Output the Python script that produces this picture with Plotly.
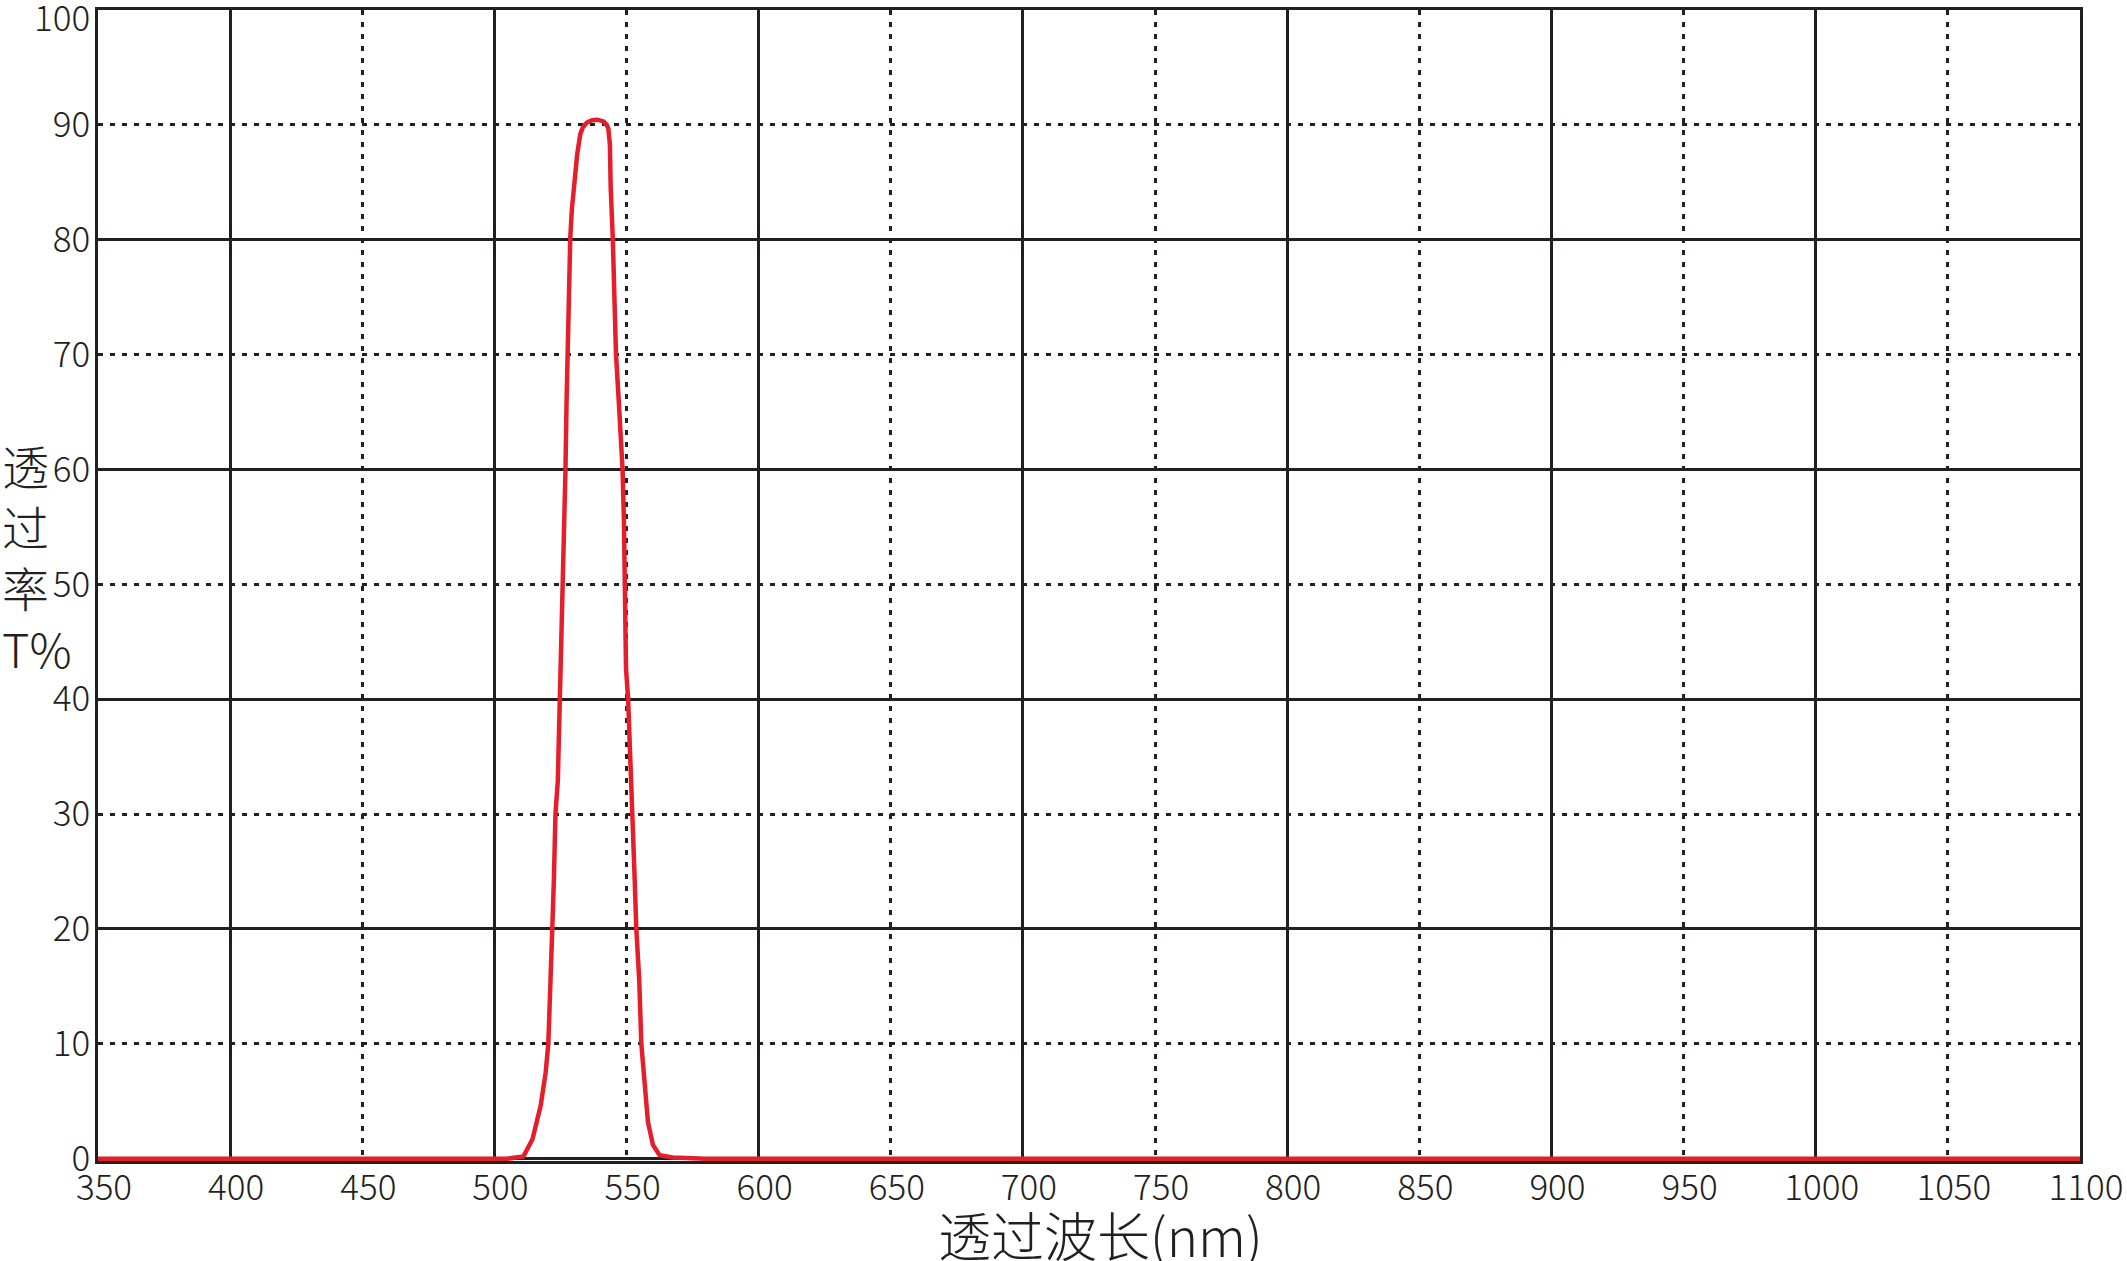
import plotly.graph_objects as go

# transmission curve
wavelength = [350, 505, 511, 514.4, 517.5, 519.4, 520.4, 520.9, 521.3, 521.9, 522.5,
              523.1, 524.0, 524.8, 525.3, 526.0, 526.3, 526.9, 527.3, 527.7, 528.7,
              529.3, 530.0, 531.3, 532.5, 533.5, 535.0, 537.0, 539.0, 541.3, 542.5,
              543.1, 543.7, 544.0, 544.8, 545.6, 546.0, 547.1, 548.5, 549.0, 549.4,
              549.8, 550.6, 551.9, 552.3, 553.1, 553.7, 554.8, 555.6, 556.9, 558.1,
              560.0, 562.5, 567.5, 580, 1100]
transmission = [0, 0, 0.2, 1.7, 4.6, 7.5, 10.0, 12.8, 15.6, 20.0, 24.2,
                30.0, 32.9, 40.0, 45.6, 50.0, 54.3, 60.0, 65.8, 70.1, 80.1,
                82.6, 84.6, 87.4, 89.2, 89.8, 90.2, 90.4, 90.45, 90.3, 90.0,
                89.7, 88.3, 84.6, 80.1, 74.5, 70.1, 65.8, 60.0, 55.7, 50.0,
                42.7, 40.0, 32.9, 30.0, 24.2, 20.0, 15.6, 10.0, 6.3, 3.2,
                1.2, 0.3, 0.1, 0, 0]

x_ticks = list(range(350, 1101, 50))
y_ticks = list(range(0, 101, 10))

FONT = "Noto Sans CJK SC Light, Noto Sans CJK SC"
INK = "#231f20"
GRID_DOT = "5px,7px"
X_RANGE = [350, 1100]
Y_RANGE = [-0.2, 100]
TICKFONT = dict(family=FONT, size=35, color=INK, weight=300)

fig = go.Figure()
# empty trace keeps the labelled axes alive
fig.add_trace(go.Scatter(x=[], y=[], showlegend=False, hoverinfo="skip"))
fig.add_trace(go.Scatter(
    x=wavelength, y=transmission, mode="lines",
    line=dict(color="#e41e2b", width=4.5),
    xaxis="x2", yaxis="y2",
    showlegend=False, hoverinfo="skip",
))

# labelled axes (ticks every 50 / 10), no grid
fig.update_layout(
    xaxis=dict(
        range=X_RANGE, tickvals=x_ticks, ticktext=[str(v) for v in x_ticks],
        showgrid=False, zeroline=False, ticks="", ticklabelshift=6,
        ticklabelstandoff=-6, ticklabeloverflow="allow", automargin=False,
        showline=True, mirror=True, linecolor=INK, linewidth=2.5,
        layer="below traces", tickfont=TICKFONT,
    ),
    yaxis=dict(
        range=Y_RANGE, tickvals=y_ticks[:-1], ticktext=[str(v) for v in y_ticks[:-1]],
        showgrid=False, zeroline=False, ticks="",
        ticklabelstandoff=-2, ticklabeloverflow="allow", automargin=False,
        showline=True, mirror=True, linecolor=INK, linewidth=2.5,
        layer="below traces", tickfont=TICKFONT,
    ),
    # overlay axes for the grid: solid major, dotted minor
    xaxis2=dict(overlaying="x", anchor="y2", range=X_RANGE, tick0=400, dtick=100,
                showticklabels=False, ticks="", showline=False, zeroline=False,
                automargin=False,
                showgrid=True, gridcolor=INK, gridwidth=2.5,
                minor=dict(tick0=350, dtick=50, showgrid=True, gridcolor=INK,
                           gridwidth=2.5, griddash=GRID_DOT)),
    yaxis2=dict(overlaying="y", anchor="x2", range=Y_RANGE, tick0=0, dtick=20,
                showticklabels=False, ticks="", showline=False, zeroline=False,
                automargin=False,
                showgrid=True, gridcolor=INK, gridwidth=2.5,
                minor=dict(tick0=0, dtick=10, showgrid=True, gridcolor=INK,
                           gridwidth=2.5, griddash=GRID_DOT)),
)

# top tick label sits a little below the frame in the original
fig.add_annotation(
    text=str(y_ticks[-1]), xref="paper", yref="y", x=0, y=y_ticks[-1],
    xanchor="right", yanchor="middle", xshift=-6, yshift=-5,
    showarrow=False, font=TICKFONT,
)
fig.add_annotation(
    text="透<br>过<br>率<br>T%", xref="paper", yref="paper",
    x=-0.0494, y=0.526, xanchor="left", yanchor="middle", align="left",
    showarrow=False, font=dict(family=FONT, size=47, color=INK, weight=300),
)
fig.add_annotation(
    text="透过波长(nm)", xref="paper", yref="paper",
    x=0.506, y=-0.063, xanchor="center", yanchor="middle",
    showarrow=False, font=dict(family=FONT, size=53, color=INK, weight=300),
)

fig.update_layout(
    width=2127, height=1261,
    margin=dict(l=98, r=47, t=10, b=100),
    paper_bgcolor="white", plot_bgcolor="white",
    font=dict(family=FONT, color=INK),
)

# drop the page's default body margin so the figure sits at the window corner
fig.write_html("out.html", config={"displayModeBar": False},
               post_script="document.body.style.margin='0';")
